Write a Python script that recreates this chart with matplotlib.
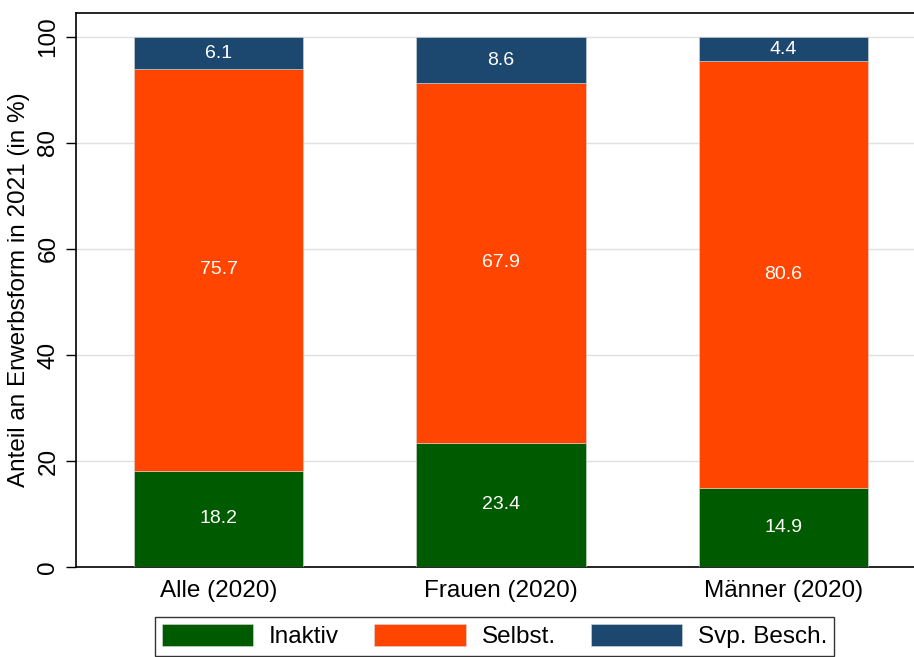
import matplotlib.pyplot as plt
import numpy as np

plt.rcParams['font.family'] = ['Liberation Sans', 'DejaVu Sans']

groups = ["Alle (2020)", "Frauen (2020)", "Männer (2020)"]
series = ["Inaktiv", "Selbst.", "Svp. Besch."]
inaktiv = [18.2, 23.4, 14.9]
selbst = [75.7, 67.9, 80.6]
svp = [6.1, 8.6, 4.4]
colors = ["#005a00", "#ff4500", "#1c4870"]

fig = plt.figure(figsize=(9.14, 6.57), dpi=100)
ax = fig.add_axes([76 / 914, 1 - 567 / 657, 850 / 914, 554 / 657])

x = np.arange(len(groups))
bottom = np.zeros(len(groups))
handles = []
for vals, name, col in zip([inaktiv, selbst, svp], series, colors):
    vals = np.array(vals)
    b = ax.bar(x, vals, width=0.6, bottom=bottom, color=col, label=name,
               edgecolor="#d8d8d8", linewidth=0.4, zorder=3)
    handles.append(b)
    for xi, v, b0 in zip(x, vals, bottom):
        ax.text(xi, b0 + v / 2, f"{v:.1f}", ha="center", va="center",
                color="white", fontsize=14, zorder=4)
    bottom += vals

ax.set_xlim(-0.506, 2.506)
ax.set_ylim(0, 104.5)
ax.set_yticks([0, 20, 40, 60, 80, 100])
ax.tick_params(axis="y", labelrotation=90, labelsize=17.5, length=7, width=1, pad=5)
for lab in ax.get_yticklabels():
    lab.set_va("center")
ax.set_xticks(x)
ax.set_xticklabels(groups, fontsize=17.5)
ax.tick_params(axis="x", length=0, pad=9)
ax.grid(axis="y", color="#e0e0e0", linewidth=1, zorder=0)
ax.set_ylabel("Anteil an Erwerbsform in 2021 (in %)", fontsize=17.5, labelpad=5)
for s in ax.spines.values():
    s.set_linewidth(1.2)

leg = fig.legend(handles, series, loc="upper left",
                 bbox_to_anchor=(155 / 914, 1 - 617 / 657), ncol=3,
                 fontsize=17.5, frameon=True, fancybox=False, edgecolor="black",
                 handlelength=3.75, handleheight=1.0, columnspacing=1.45,
                 borderpad=0.3, borderaxespad=0, handletextpad=0.65)
leg.get_frame().set_linewidth(1)

fig.savefig("out.png", dpi=100)
